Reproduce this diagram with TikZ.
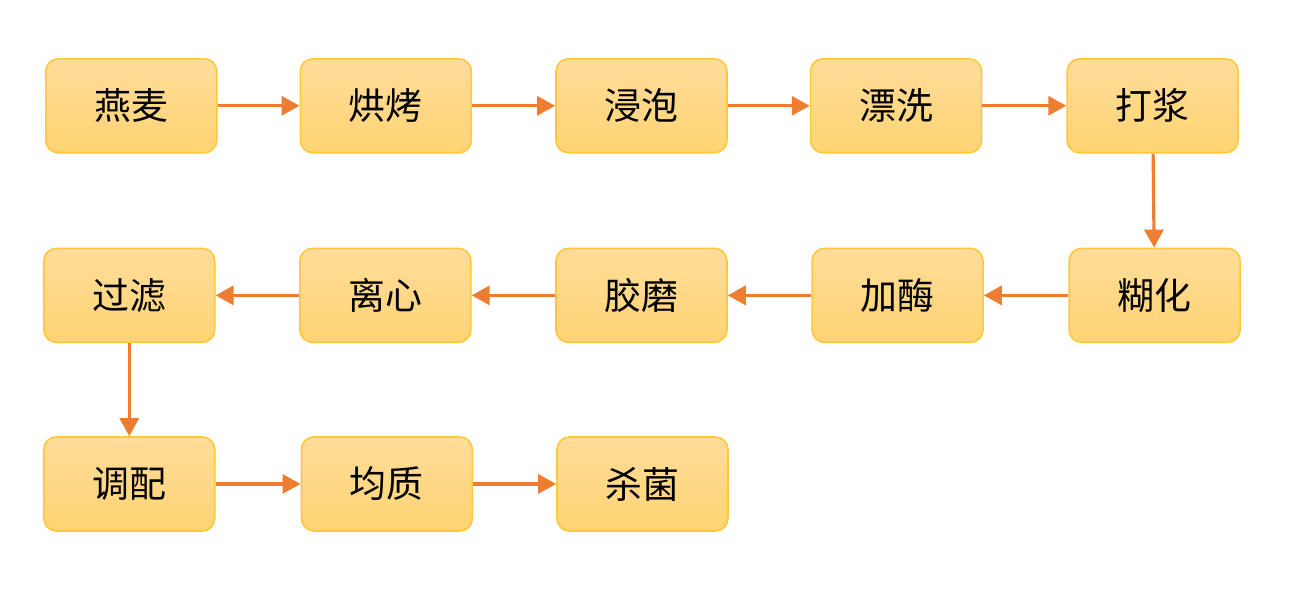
\documentclass[tikz,border=0pt]{standalone}
\usepackage{fontspec}
\newfontfamily\cjk{Noto Sans CJK SC}
\usepackage{tikz}
\usetikzlibrary{positioning,arrows.meta}
\definecolor{boxtop}{HTML}{FFDC9A}
\definecolor{boxbot}{HTML}{FFD473}
\definecolor{boxline}{HTML}{FFC73A}
\definecolor{arrowc}{HTML}{ED7D31}

\begin{document}
\begin{tikzpicture}[
    box/.style={draw=boxline, line width=0.9pt, rounded corners=0.25cm, top color=boxtop, bottom color=boxbot, minimum width=3.42cm, minimum height=1.88cm, align=center, font=\cjk\fontsize{21}{24}\selectfont},
    arrow/.style={-{Triangle[length=0.36cm,width=0.38cm]}, draw=arrowc, line width=1.8pt}
]
\useasboundingbox (0,0) rectangle (26.04,-11.92);
% first row
\node[box, anchor=north west] (A) at (0.9,-1.16) {燕麦};
\node[box, right=1.64cm of A] (B) {烘烤};
\node[box, right=1.66cm of B] (C) {浸泡};
\node[box, right=1.64cm of C] (D) {漂洗};
\node[box, right=1.68cm of D] (E) {打浆};
% second row
\node[box, below=1.88cm of E, xshift=0.04cm] (F) {糊化};
\node[box, left=1.69cm of F] (G) {加酶};
\node[box, left=1.67cm of G] (H) {胶磨};
\node[box, left=1.67cm of H] (I) {离心};
\node[box, left=1.67cm of I] (J) {过滤};
% third row
\node[box, below=1.86cm of J] (K) {调配};
\node[box, right=1.7cm of K] (L) {均质};
\node[box, right=1.66cm of L] (M) {杀菌};
\draw[arrow] (A) -- (B);
\draw[arrow] (B) -- (C);
\draw[arrow] (C) -- (D);
\draw[arrow] (D) -- (E);
\draw[arrow] (E) -- (F);
\draw[arrow] (F) -- (G);
\draw[arrow] (G) -- (H);
\draw[arrow] (H) -- (I);
\draw[arrow] (I) -- (J);
\draw[arrow] (J) -- (K);
\draw[arrow] (K) -- (L);
\draw[arrow] (L) -- (M);
\end{tikzpicture}
\end{document}
